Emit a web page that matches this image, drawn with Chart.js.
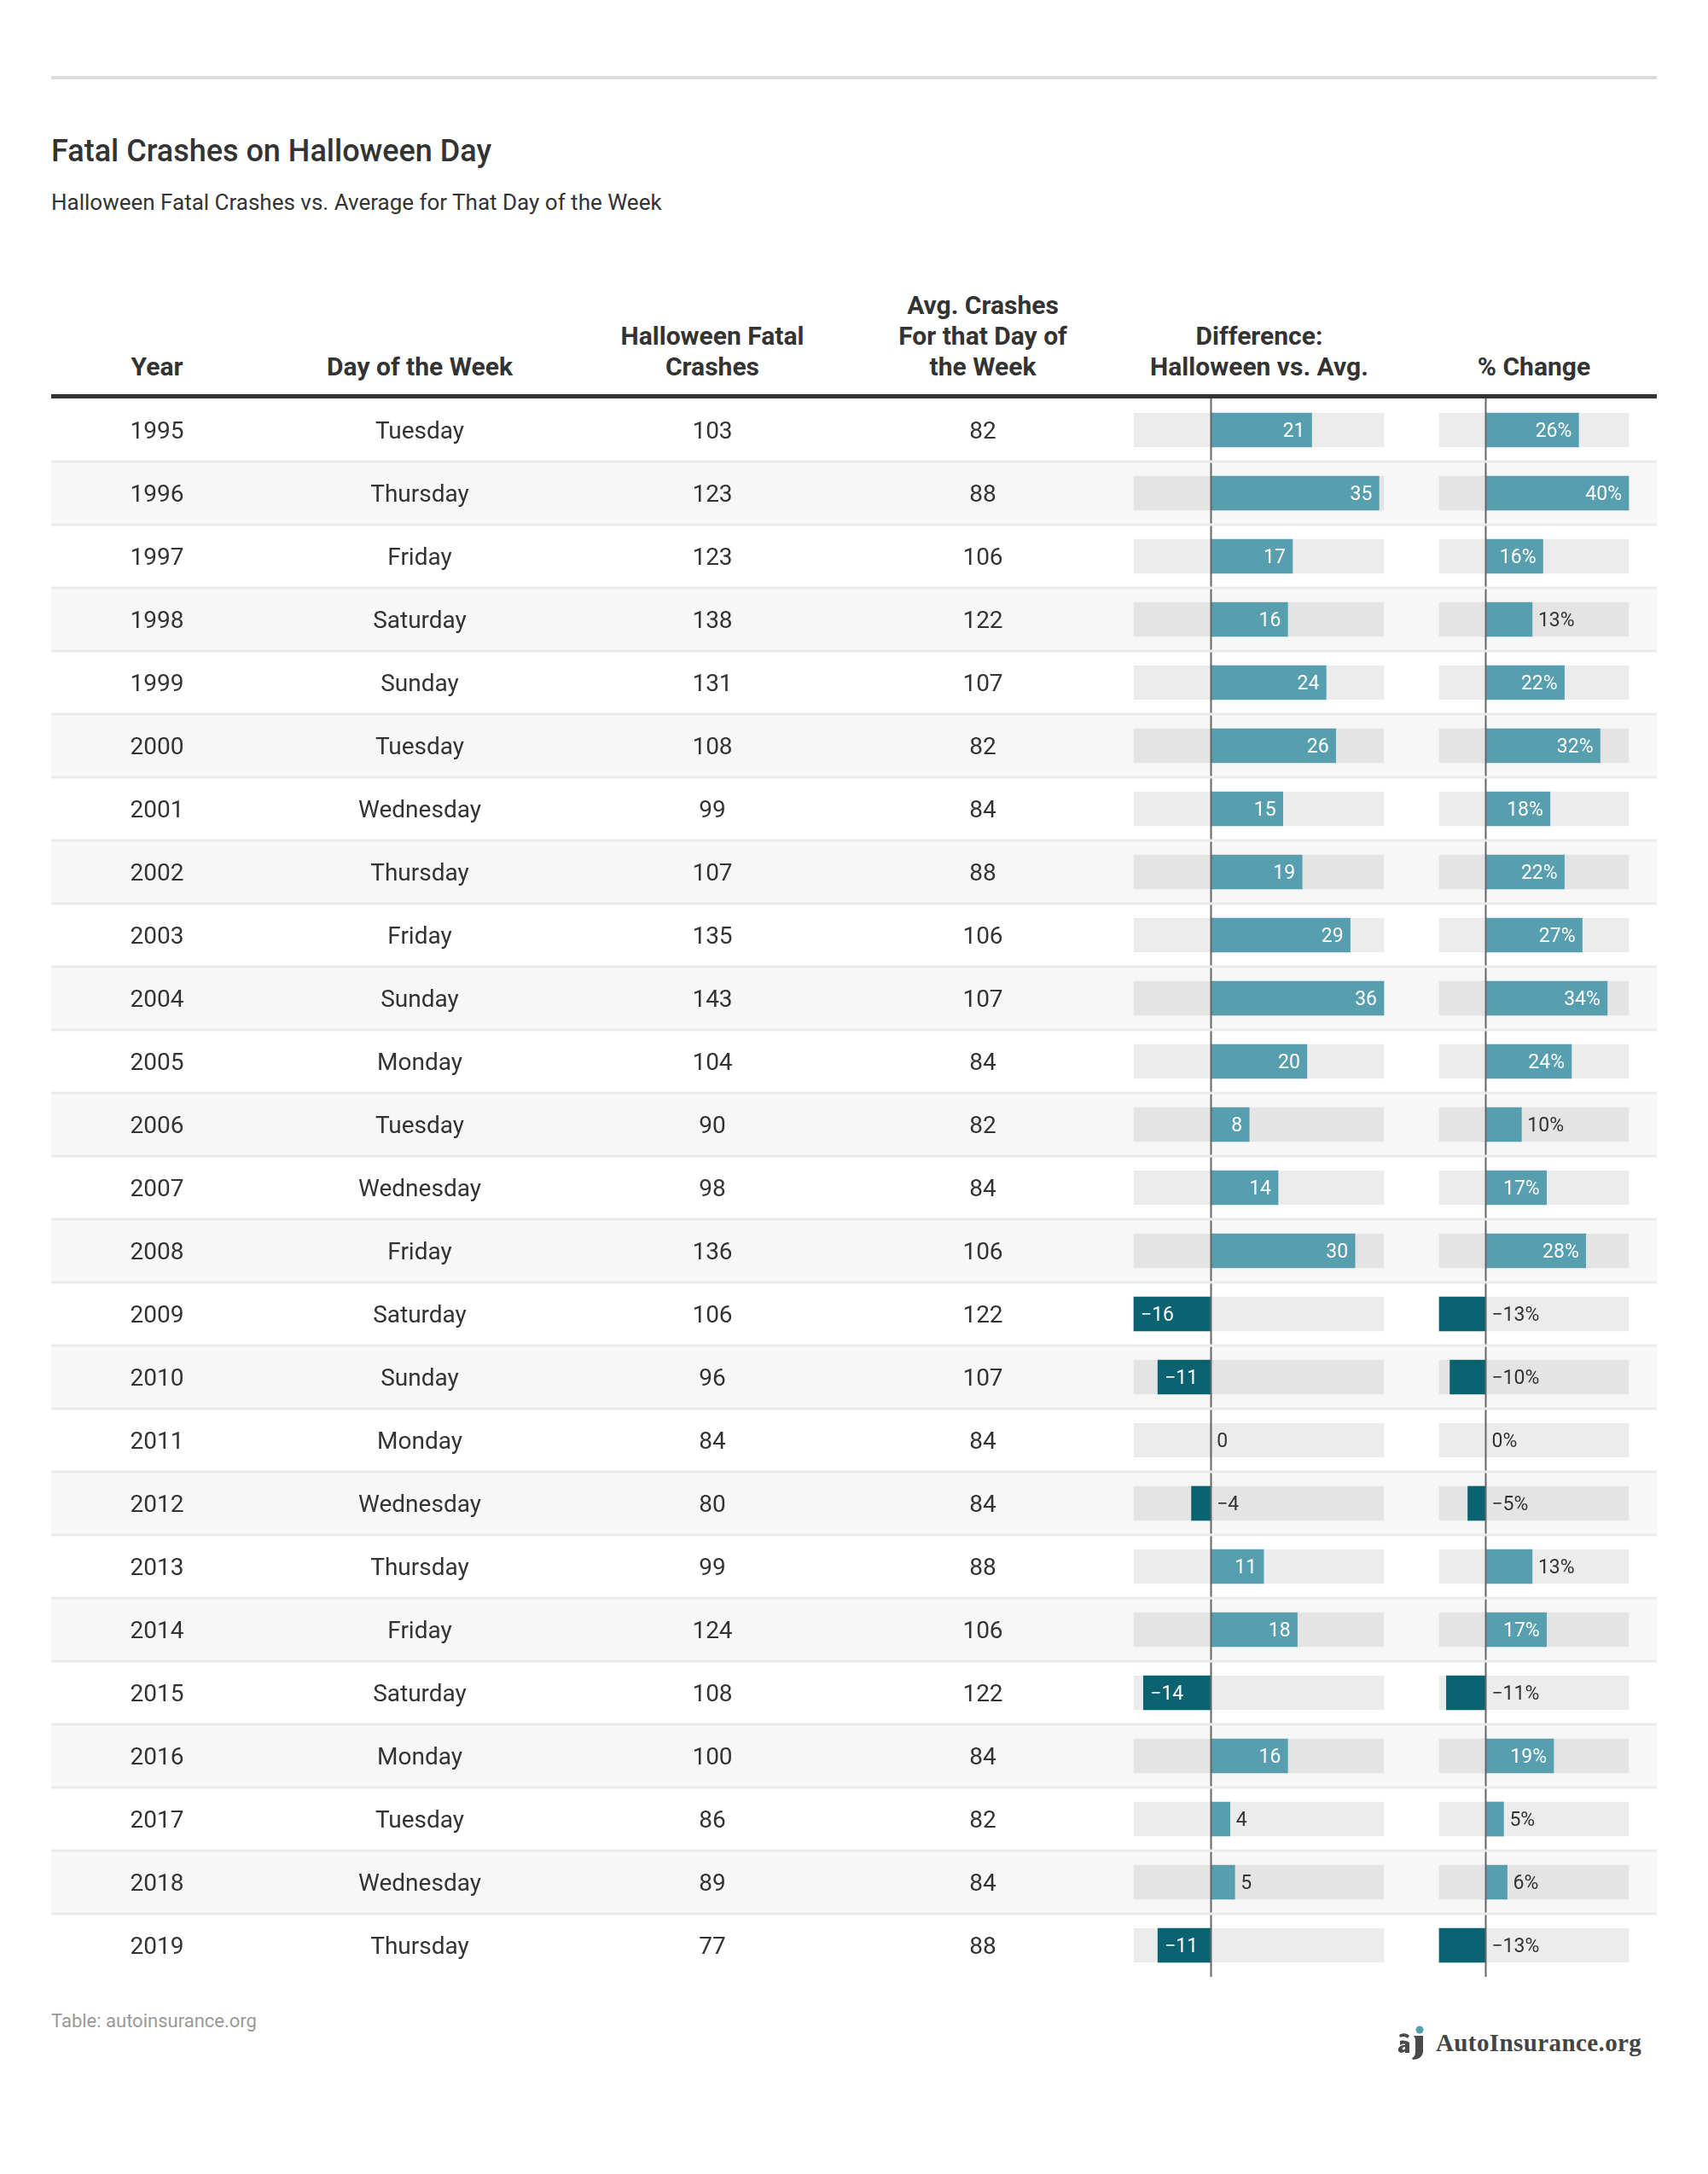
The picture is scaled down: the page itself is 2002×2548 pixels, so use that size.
<!DOCTYPE html>
<html>
<head>
<meta charset="utf-8">
<title>Fatal Crashes on Halloween Day</title>
<script src="https://cdn.jsdelivr.net/npm/chart.js@4.4.0/dist/chart.umd.min.js"></script>
<style>
	body { margin: 0; background: #fff; font-family: Roboto, "Noto Sans", sans-serif; color: #333; }
	#page { position: relative; width: 2002px; height: 2548px; overflow: hidden; }
	.topline { position: absolute; left: 60px; top: 89px; width: 1882px; height: 4px; background: #dddddd; }
	h1 { position: absolute; left: 60px; top: 155px; margin: 0; font-size: 36px; font-weight: 500; line-height: 44px; }
	.sub { position: absolute; left: 60px; top: 222px; font-size: 26px; line-height: 30px; }
	.th { position: absolute; top: 0; height: 448px; width: 360px; margin-left: -180px; display: flex; flex-direction: column; justify-content: flex-end; text-align: center; font-weight: 700; font-size: 30px; line-height: 36px; }
	.headline { position: absolute; left: 60px; top: 462px; width: 1882px; height: 5px; background: #333; }
	#wrap { position: absolute; left: 60px; top: 467px; width: 1882px; height: 1850px; }
	.src { position: absolute; left: 60px; top: 2356px; font-size: 22px; line-height: 26px; color: #999; }
	.logo { position: absolute; left: 1638px; top: 2374px; height: 40px; display: flex; align-items: center; font-family: "Liberation Serif", serif; font-weight: 700; font-size: 29px; letter-spacing: 0.4px; color: #444; }
	.logo svg { margin-right: 12px; }
</style>
</head>
<body>
<div id="page">
	<div class="topline"></div>
	<h1>Fatal Crashes on Halloween Day</h1>
	<div class="sub">Halloween Fatal Crashes vs. Average for That Day of the Week</div>

	<div class="th" style="left:184px">Year</div>
	<div class="th" style="left:492px">Day of the Week</div>
	<div class="th" style="left:835px">Halloween Fatal<br>Crashes</div>
	<div class="th" style="left:1152px">Avg. Crashes<br>For that Day of<br>the Week</div>
	<div class="th" style="left:1476px">Difference:<br>Halloween vs. Avg.</div>
	<div class="th" style="left:1798px">% Change</div>
	<div class="headline"></div>

	<div id="wrap"><canvas id="table" width="1882" height="1850"></canvas></div>

	<div class="src">Table: autoinsurance.org</div>
	<div class="logo">
		<svg width="33" height="40" viewBox="0 0 33 40">
			<circle cx="26" cy="5" r="4.5" fill="#579fae"/>
			<path d="M19 12h11v18c0 6-5 10-12 10l-1-2c3-1 4-4 4-8v-14z" fill="#4a4a4a"/>
			<path d="M2 11c4-3 10-2 12 1l-2 3c-2-2-6-3-9-1z" fill="#4a4a4a"/>
			<path d="M3 18c4-1 9 0 11 2v12h-5v-2c-3 3-9 2-8-2 0-3 3-5 8-5v-1c-2-1-4 0-6 1z M9 25c-3 0-4 2-3 3 1 1 3 0 3-1z" fill="#4a4a4a"/>
		</svg>
		<span>AutoInsurance.org</span>
	</div>
</div>

<script>
const years = ["1995", "1996", "1997", "1998", "1999", "2000", "2001", "2002", "2003", "2004", "2005", "2006", "2007", "2008", "2009", "2010", "2011", "2012", "2013", "2014", "2015", "2016", "2017", "2018", "2019"];
const days = ["Tuesday", "Thursday", "Friday", "Saturday", "Sunday", "Tuesday", "Wednesday", "Thursday", "Friday", "Sunday", "Monday", "Tuesday", "Wednesday", "Friday", "Saturday", "Sunday", "Monday", "Wednesday", "Thursday", "Friday", "Saturday", "Monday", "Tuesday", "Wednesday", "Thursday"];
const halloween = [103, 123, 123, 138, 131, 108, 99, 107, 135, 143, 104, 90, 98, 136, 106, 96, 84, 80, 99, 124, 108, 100, 86, 89, 77];
const average = [82, 88, 106, 122, 107, 82, 84, 88, 106, 107, 84, 82, 84, 106, 122, 107, 84, 84, 88, 106, 122, 84, 82, 84, 88];
const difference = [21, 35, 17, 16, 24, 26, 15, 19, 29, 36, 20, 8, 14, 30, -16, -11, 0, -4, 11, 18, -14, 16, 4, 5, -11];
const pctChange = [26, 40, 16, 13, 22, 32, 18, 22, 27, 34, 24, 10, 17, 28, -13, -10, 0, -5, 13, 17, -11, 19, 5, 6, -13];

// page x of the text column centres and the pixel span of each bar column
const AREA_LEFT = 60, AREA_RIGHT = 1942;
const textCols = [184, 492, 835, 1152];
const diffSpan = [1329, 1622];
const pctSpan = [1687, 1909];

const POS = "#579fae", NEG = "#0b6371", TRACK = "rgba(0, 0, 0, 0.075)";

// stretch a linear scale so that [lo, hi] lands on the pixel span of its column
function SpanScale(lo, hi, span) {
	var per = (hi - lo) / (span[1] - span[0]);
	return {
		type: "linear",
		display: false,
		min: lo - (span[0] - AREA_LEFT) * per,
		max: hi + (AREA_RIGHT - span[1]) * per,
	};
}

function fmt(v, suffix) {
	return (v < 0 ? "\u2212" + Math.abs(v) : String(v)) + suffix;
}

function BarSets(values, axis) {
	var lo = Math.min(...values), hi = Math.max(...values);
	return [
		{
			data: values.map(() => [lo, hi]),
			xAxisID: axis,
			backgroundColor: TRACK,
			barThickness: 40,
			grouped: false,
			order: 4,
		},
		{
			data: values,
			xAxisID: axis,
			backgroundColor: values.map((v) => (v < 0 ? NEG : POS)),
			barThickness: 40,
			grouped: false,
			order: 1,
		},
	];
}

const rowsPlugin = {
	id: "rows",
	beforeDatasetsDraw(chart) {
		const ctx = chart.ctx, y = chart.scales.y;
		const band = y.getPixelForValue(1) - y.getPixelForValue(0);
		ctx.save();
		ctx.fillStyle = "#f7f7f7";
		years.forEach((yr, i) => {
			if (i % 2 == 1) ctx.fillRect(0, y.getPixelForValue(i) - band / 2, chart.width, band);
		});
		ctx.restore();
	},
	afterDatasetsDraw(chart) {
		const ctx = chart.ctx, y = chart.scales.y;
		const band = y.getPixelForValue(1) - y.getPixelForValue(0);
		ctx.save();

		// zero lines
		ctx.strokeStyle = "#666";
		ctx.lineWidth = 2;
		["x", "x2"].forEach((id) => {
			var zx = Math.round(chart.scales[id].getPixelForValue(0)) + 0.5;
			ctx.beginPath();
			ctx.moveTo(zx, 0);
			ctx.lineTo(zx, chart.height);
			ctx.stroke();
		});

		// text cells
		ctx.fillStyle = "#333";
		ctx.font = "28px Roboto";
		ctx.textAlign = "center";
		ctx.textBaseline = "middle";
		const cols = [years, days, halloween, average];
		years.forEach((yr, i) => {
			var py = y.getPixelForValue(i) + 3;
			cols.forEach((col, c) => ctx.fillText(String(col[i]), textCols[c] - AREA_LEFT, py));
		});

		// bar labels
		ctx.font = "23px Roboto";
		[[1, difference, ""], [3, pctChange, "%"]].forEach(([di, values, suffix]) => {
			chart.getDatasetMeta(di).data.forEach((bar, i) => {
				var v = values[i], txt = fmt(v, suffix);
				var w = ctx.measureText(txt).width;
				var len = Math.abs(bar.x - bar.base);
				var py = bar.y + 2;
				if (len > w + 20) {
					ctx.fillStyle = "#fff";
					if (v > 0) {
						ctx.textAlign = "right";
						ctx.fillText(txt, bar.x - 8, py);
					} else {
						ctx.textAlign = "left";
						ctx.fillText(txt, bar.x + 8, py);
					}
				} else {
					ctx.fillStyle = "#333";
					ctx.textAlign = "left";
					ctx.fillText(txt, (v > 0 ? bar.x : bar.base) + 7, py);
				}
			});
		});

		// row separators
		ctx.fillStyle = "#ebebeb";
		years.forEach((yr, i) => {
			if (i > 0) ctx.fillRect(0, y.getPixelForValue(i) - band / 2 - 1.5, chart.width, 3);
		});
		ctx.restore();
	},
};

function Draw() {
	const diffSets = BarSets(difference, "x");
	const pctSets = BarSets(pctChange, "x2");
	new Chart(document.getElementById("table"), {
		type: "bar",
		data: {
			labels: years,
			datasets: [diffSets[0], diffSets[1], pctSets[0], pctSets[1]],
		},
		options: {
			indexAxis: "y",
			responsive: false,
			animation: false,
			devicePixelRatio: 1,
			layout: { padding: 0 },
			elements: { bar: { borderWidth: 0, borderSkipped: false } },
			scales: {
				x: SpanScale(Math.min(...difference), Math.max(...difference), diffSpan),
				x2: SpanScale(Math.min(...pctChange), Math.max(...pctChange), pctSpan),
				y: { type: "category", display: false, offset: true },
			},
			plugins: {
				legend: { display: false },
				tooltip: { enabled: false },
			},
		},
		plugins: [rowsPlugin],
	});
}

if (document.fonts && document.fonts.ready) document.fonts.ready.then(Draw);
else Draw();
</script>
</body>
</html>
